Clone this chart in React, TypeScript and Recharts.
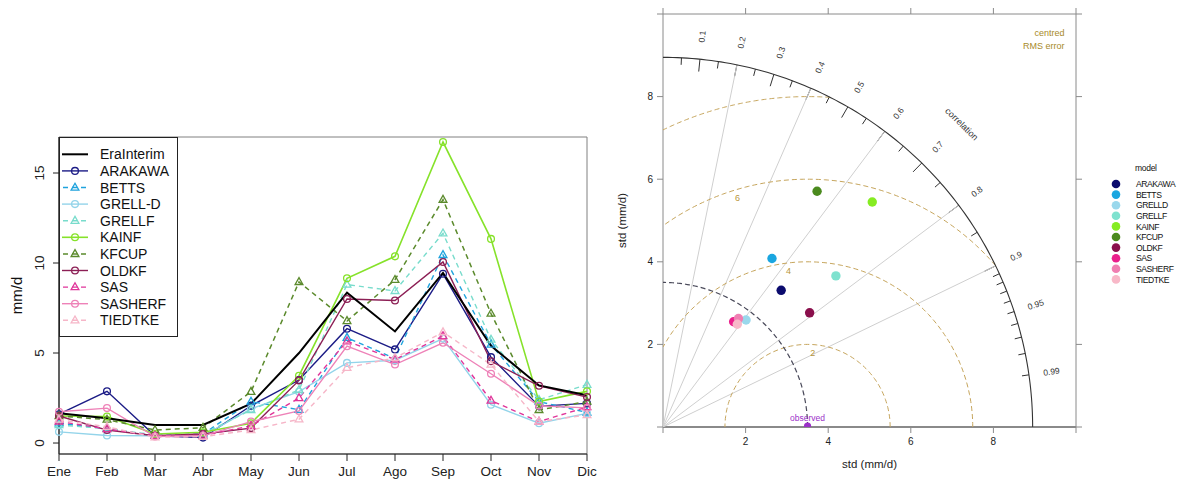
import React from 'react';
import {
  LineChart,
  Line,
  XAxis,
  YAxis,
  ReferenceArea,
  ReferenceLine,
  ScatterChart,
  Scatter,
} from 'recharts';

const FONT = '"Liberation Sans", Arial, Helvetica, sans-serif';

// ---------- Monthly precipitation (mm/d) ----------
const months = ['Ene', 'Feb', 'Mar', 'Abr', 'May', 'Jun', 'Jul', 'Ago', 'Sep', 'Oct', 'Nov', 'Dic'];
const eraInterim = [1.65, 1.38, 1.0, 1.0, 2.18, 5.0, 8.35, 6.2, 9.45, 5.4, 3.2, 2.65];
const arakawa = [1.6, 2.87, 0.4, 0.3, 2.07, 3.5, 6.35, 5.2, 9.4, 4.77, 2.05, 2.2];
const betts = [1.1, 0.8, 0.4, 0.5, 2.3, 1.85, 5.85, 4.7, 10.45, 5.47, 2.3, 1.7];
const grellD = [0.62, 0.42, 0.4, 0.4, 1.9, 2.85, 4.45, 4.6, 5.8, 2.13, 1.1, 1.65];
const grellF = [1.0, 0.8, 0.45, 0.5, 1.84, 2.95, 8.8, 8.45, 11.65, 5.75, 2.4, 3.24];
const kainf = [1.5, 1.47, 0.5, 0.6, 1.1, 3.74, 9.15, 10.37, 16.72, 11.34, 2.3, 2.87];
const kfcup = [1.5, 1.3, 0.72, 0.85, 2.85, 8.95, 6.78, 9.07, 13.52, 7.19, 1.84, 2.3];
const oldkf = [1.5, 0.72, 0.4, 0.5, 0.83, 3.48, 8.0, 7.92, 10.06, 4.54, 3.18, 2.55];
const sas = [1.2, 0.78, 0.4, 0.42, 0.95, 2.5, 5.66, 4.64, 5.94, 2.36, 1.19, 2.0];
const sasherf = [1.74, 1.94, 0.36, 0.4, 1.19, 1.78, 5.38, 4.36, 5.57, 3.85, 2.07, 1.95];
const tiedtke = [1.3, 0.9, 0.32, 0.35, 0.72, 1.32, 4.18, 4.73, 6.16, 4.36, 1.19, 1.56];

type Marker = 'circle' | 'triangle' | null;
interface SeriesDef {
  key: string;
  label: string;
  color: string;
  dashed: boolean;
  marker: Marker;
  width: number;
  values: number[];
}

const monthlySeries: SeriesDef[] = [
  { key: 'era', label: 'EraInterim', color: '#000000', dashed: false, marker: null, width: 2, values: eraInterim },
  { key: 'arakawa', label: 'ARAKAWA', color: '#1c1c86', dashed: false, marker: 'circle', width: 1.4, values: arakawa },
  { key: 'betts', label: 'BETTS', color: '#1fa3dd', dashed: true, marker: 'triangle', width: 1.4, values: betts },
  { key: 'grellD', label: 'GRELL-D', color: '#93d4ea', dashed: false, marker: 'circle', width: 1.4, values: grellD },
  { key: 'grellF', label: 'GRELLF', color: '#78dccc', dashed: true, marker: 'triangle', width: 1.4, values: grellF },
  { key: 'kainf', label: 'KAINF', color: '#86e22a', dashed: false, marker: 'circle', width: 1.6, values: kainf },
  { key: 'kfcup', label: 'KFCUP', color: '#5b8a2c', dashed: true, marker: 'triangle', width: 1.5, values: kfcup },
  { key: 'oldkf', label: 'OLDKF', color: '#8c1f55', dashed: false, marker: 'circle', width: 1.4, values: oldkf },
  { key: 'sas', label: 'SAS', color: '#e0359a', dashed: true, marker: 'triangle', width: 1.4, values: sas },
  { key: 'sasherf', label: 'SASHERF', color: '#ee82b8', dashed: false, marker: 'circle', width: 1.4, values: sasherf },
  { key: 'tiedtke', label: 'TIEDTKE', color: '#f6b6c8', dashed: true, marker: 'triangle', width: 1.4, values: tiedtke },
];

const monthlyRows = months.map((m, i) => {
  const row: Record<string, string | number> = { month: m };
  monthlySeries.forEach((s) => {
    row[s.key] = s.values[i];
  });
  return row;
});

const yTicksMonthly = [0, 5, 10, 15];

// ---------- Taylor diagram ----------
const models = ['ARAKAWA', 'BETTS', 'GRELLD', 'GRELLF', 'KAINF', 'KFCUP', 'OLDKF', 'SAS', 'SASHERF', 'TIEDTKE'];
const modelStd = [4.375, 4.86, 3.28, 5.56, 7.44, 6.82, 4.5, 3.07, 3.2, 3.07];
const modelCorr = [0.654, 0.543, 0.613, 0.753, 0.681, 0.547, 0.789, 0.557, 0.571, 0.586];
const modelColors = ['#0b0b6e', '#1aa6e0', '#9ad8ec', '#7fe2cf', '#86ec22', '#4b8a1e', '#8a0f4c', '#ea1f8c', '#f07fb2', '#f8b8c8'];

const OBS_STD = 3.5;
const R_MAX = 8.95;
const stdTicks = [0, 2, 4, 6, 8, 10];
const rmsRadii = [2, 4, 6, 8];
const rmsLabelRadii = [2, 4, 6];
const rmsLabelAngles = [86, 97, 107];
const corrLabels = [0.1, 0.2, 0.3, 0.4, 0.5, 0.6, 0.7, 0.8, 0.9, 0.95, 0.99];
const corrGridLines = [0.2, 0.4, 0.6, 0.8, 0.9];

const corrTicks: number[] = [];
for (let k = 1; k <= 17; k++) corrTicks.push(k / 20);
for (let k = 90; k <= 99; k++) corrTicks.push(k / 100);

const sinOf = (c: number) => Math.sqrt(Math.max(0, 1 - c * c));

function arc(cx: number, r: number, a0: number, a1: number, n = 120) {
  return Array.from({ length: n + 1 }, (_, k) => {
    const a = a0 + ((a1 - a0) * k) / n;
    return { x: cx + r * Math.cos(a), y: r * Math.sin(a) };
  });
}

// centred-RMS circle around the observed point, kept inside the std quadrant
function rmsArc(r: number) {
  const lo = Math.acos(Math.min(1, (R_MAX * R_MAX - OBS_STD * OBS_STD - r * r) / (2 * OBS_STD * r)));
  const hi = Math.acos(Math.max(-1, -OBS_STD / r));
  return arc(OBS_STD, r, lo, hi);
}

const NoShape = () => <g />;

const TextShape = (p: any) => {
  const { cx, cy, payload } = p;
  if (cx == null || cy == null) return <g />;
  return (
    <text
      x={cx}
      y={cy}
      transform={`rotate(${payload.rot || 0}, ${cx}, ${cy})`}
      textAnchor={payload.anchor || 'middle'}
      dominantBaseline="central"
      fontSize={payload.size}
      fill={payload.color}
      fontFamily={FONT}
    >
      {payload.text}
    </text>
  );
};

const corrLabelData = corrLabels.map((c) => {
  const r = 9.5;
  return {
    x: r * c,
    y: r * sinOf(c),
    text: String(c),
    rot: -(Math.acos(c) * 180) / Math.PI,
    size: 8.5,
    color: '#333333',
  };
});

const corrTitle = [
  {
    x: 10.3 * Math.cos((45.4 * Math.PI) / 180),
    y: 10.3 * Math.sin((45.4 * Math.PI) / 180),
    text: 'correlation',
    rot: 90 - 45.4,
    size: 9,
    color: '#333333',
  },
];

const rmsLabelData = rmsLabelRadii.map((r, i) => {
  const a = (rmsLabelAngles[i] * Math.PI) / 180;
  return {
    x: OBS_STD + (r - 0.2) * Math.cos(a),
    y: (r - 0.2) * Math.sin(a),
    text: String(r),
    size: 9,
    color: '#b8963a',
  };
});

const rmsTitle = [
  { x: 9.72, y: 9.55, text: 'centred', anchor: 'end', size: 9, color: '#a88a2a' },
  { x: 9.72, y: 9.23, text: 'RMS error', anchor: 'end', size: 9, color: '#a88a2a' },
];

const blankFmt = () => '';
const innerFmt = (v: number) => (v === 0 || v === 10 ? '' : String(v));

function MonthMarker({ shape, cx, cy, color }: { shape: Marker; cx: number; cy: number; color: string }) {
  if (shape === 'triangle') {
    return (
      <path
        d={`M${cx},${cy - 4.3} L${cx + 3.9},${cy + 2.6} L${cx - 3.9},${cy + 2.6} Z`}
        fill="none"
        stroke={color}
        strokeWidth={1.3}
      />
    );
  }
  return <circle cx={cx} cy={cy} r={3.4} fill="none" stroke={color} strokeWidth={1.3} />;
}

const RotatedTick = (p: any) => {
  const { x, y, payload } = p;
  const bx = x - 6.5;
  return (
    <text
      x={bx}
      y={y}
      transform={`rotate(-90, ${bx}, ${y})`}
      textAnchor="middle"
      fontSize={13.5}
      fill="#222"
      fontFamily={FONT}
    >
      {payload.value}
    </text>
  );
};

function MonthlyChart() {
  const drawOrder = [...monthlySeries.slice(1), monthlySeries[0]];
  return (
    <LineChart width={600} height={481} data={monthlyRows} margin={{ top: 137, right: 13, bottom: 0, left: 0 }}>
      <ReferenceArea x1="Ene" x2="Dic" y1={-0.61} y2={17} fill="none" stroke="#808080" strokeWidth={1} ifOverflow="visible" />
      <XAxis
        dataKey="month"
        interval={0}
        height={27}
        tickSize={7}
        tickMargin={5}
        padding={{ left: 0, right: 0 }}
        axisLine={{ stroke: '#222', strokeWidth: 1.2 }}
        tickLine={{ stroke: '#222' }}
        tick={{ fontSize: 13.5, fill: '#222', fontFamily: FONT }}
      />
      <YAxis
        width={59}
        type="number"
        domain={[-0.61, 17]}
        allowDataOverflow
        ticks={yTicksMonthly}
        tickSize={6}
        axisLine={{ stroke: '#222', strokeWidth: 1.2 }}
        tickLine={{ stroke: '#222' }}
        tick={<RotatedTick />}
        label={(p: any) => {
          const vb = p.viewBox || { x: 0, y: 137, width: 59, height: 317 };
          const x = vb.x + 21.5;
          const y = vb.y + vb.height / 2;
          return (
            <text x={x} y={y} transform={`rotate(-90, ${x}, ${y})`} textAnchor="middle" fontSize={15} fill="#111" fontFamily={FONT}>
              mm/d
            </text>
          );
        }}
      />
      {drawOrder.map((s) => (
        <Line
          key={s.key}
          type="linear"
          dataKey={s.key}
          name={s.label}
          stroke={s.color}
          strokeWidth={s.width}
          strokeDasharray={s.dashed ? '5 4' : undefined}
          isAnimationActive={false}
          dot={
            s.marker
              ? (p: any) => <MonthMarker key={`${s.key}-${p.index}`} shape={s.marker} cx={p.cx} cy={p.cy} color={s.color} />
              : false
          }
          activeDot={false}
        />
      ))}
    </LineChart>
  );
}

function MonthlyLegend() {
  const rowH = 16.6;
  return (
    <svg width={120} height={201} style={{ position: 'absolute', left: 59, top: 137 }}>
      <rect x={0.5} y={0.5} width={118} height={199} fill="#fff" stroke="#222" strokeWidth={1} />
      {monthlySeries.map((s, i) => {
        const cy = 17.3 + i * rowH;
        return (
          <g key={s.key}>
            <line
              x1={3}
              x2={29}
              y1={cy}
              y2={cy}
              stroke={s.color}
              strokeWidth={s.width}
              strokeDasharray={s.dashed ? '5 4' : undefined}
              strokeDashoffset={s.dashed ? -1 : 0}
            />
            {s.marker ? <MonthMarker shape={s.marker} cx={16} cy={cy} color={s.color} /> : null}
            <text x={41} y={cy + 5} fontSize={14} fill="#111" fontFamily={FONT}>
              {s.label}
            </text>
          </g>
        );
      })}
    </svg>
  );
}

function TaylorChart() {
  const axisStroke = '#8a8a8a';
  return (
    <ScatterChart width={588} height={481} margin={{ top: 4, right: 102, bottom: 6, left: 13 }}>
      <XAxis
        xAxisId={0}
        type="number"
        dataKey="x"
        domain={[0, 10]}
        allowDataOverflow
        ticks={stdTicks}
        tickFormatter={innerFmt}
        height={48}
        tickSize={6}
        tickMargin={5}
        axisLine={{ stroke: axisStroke, strokeWidth: 2 }}
        tickLine={{ stroke: axisStroke }}
        tick={{ fontSize: 10, fill: '#222', fontFamily: FONT }}
        label={(p: any) => {
          const vb = p.viewBox || { x: 63, y: 427, width: 413, height: 48 };
          return (
            <text x={vb.x + vb.width / 2} y={vb.y + 37} textAnchor="middle" dominantBaseline="central" fontSize={11.5} fill="#222" fontFamily={FONT}>
              std (mm/d)
            </text>
          );
        }}
      />
      <XAxis
        xAxisId="t"
        orientation="top"
        type="number"
        dataKey="x"
        domain={[0, 10]}
        allowDataOverflow
        ticks={stdTicks}
        tickFormatter={blankFmt}
        height={10}
        tickSize={6}
        axisLine={{ stroke: axisStroke }}
        tickLine={{ stroke: axisStroke }}
      />
      <YAxis
        yAxisId={0}
        type="number"
        dataKey="y"
        domain={[0, 10]}
        allowDataOverflow
        ticks={stdTicks}
        tickFormatter={innerFmt}
        width={50}
        tickSize={6}
        tickMargin={4}
        axisLine={{ stroke: axisStroke }}
        tickLine={{ stroke: axisStroke }}
        tick={{ fontSize: 10, fill: '#222', fontFamily: FONT }}
        label={(p: any) => {
          const vb = p.viewBox || { x: 13, y: 14, width: 50, height: 413 };
          const x = vb.x + 13;
          const y = vb.y + vb.height / 2;
          return (
            <text x={x} y={y} transform={`rotate(-90, ${x}, ${y})`} textAnchor="middle" fontSize={11.5} fill="#222" fontFamily={FONT}>
              std (mm/d)
            </text>
          );
        }}
      />
      <YAxis
        yAxisId="r"
        orientation="right"
        type="number"
        domain={[0, 10]}
        allowDataOverflow
        ticks={stdTicks}
        tickFormatter={blankFmt}
        width={10}
        tickSize={6}
        axisLine={{ stroke: axisStroke }}
        tickLine={{ stroke: axisStroke }}
      />

      {/* correlation grid rays */}
      {corrGridLines.map((c) => (
        <Scatter
          key={`ray-${c}`}
          data={[
            { x: 0, y: 0 },
            { x: R_MAX * c, y: R_MAX * sinOf(c) },
          ]}
          fill="none"
          stroke="#cfcfcf"
          line={{ stroke: '#cfcfcf', strokeWidth: 1 }}
          shape={NoShape}
          isAnimationActive={false}
        />
      ))}

      {/* centred RMS error circles */}
      {rmsRadii.map((r) => (
        <Scatter
          key={`rms-${r}`}
          data={rmsArc(r)}
          fill="none"
          stroke="#c6a55c"
          line={{ stroke: '#c6a55c', strokeWidth: 1, strokeDasharray: '5 3' }}
          shape={NoShape}
          isAnimationActive={false}
        />
      ))}

      {/* observed standard deviation */}
      <Scatter
        data={arc(0, OBS_STD, 0, Math.PI / 2)}
        fill="none"
        stroke="#4a4a5a"
        line={{ stroke: '#4a4a5a', strokeWidth: 1.2, strokeDasharray: '5 3' }}
        shape={NoShape}
        isAnimationActive={false}
      />

      {/* outer correlation arc */}
      <Scatter
        data={arc(0, R_MAX, 0, Math.PI / 2)}
        fill="none"
        stroke="#333"
        line={{ stroke: '#333', strokeWidth: 1.1 }}
        shape={NoShape}
        isAnimationActive={false}
      />

      {corrTicks.map((c) => {
        const major = Math.abs(c * 10 - Math.round(c * 10)) < 1e-9;
        const len = major ? 0.3 : 0.17;
        const s = sinOf(c);
        return (
          <ReferenceLine
            key={`tick-${c}`}
            segment={[
              { x: R_MAX * c, y: R_MAX * s },
              { x: (R_MAX - len) * c, y: (R_MAX - len) * s },
            ]}
            stroke="#333"
            strokeWidth={1}
            ifOverflow="visible"
          />
        );
      })}

      <Scatter data={corrLabelData} shape={TextShape} isAnimationActive={false} />
      <Scatter data={corrTitle} shape={TextShape} isAnimationActive={false} />
      <Scatter data={rmsLabelData} shape={TextShape} isAnimationActive={false} />
      <Scatter data={rmsTitle} shape={TextShape} isAnimationActive={false} />

      {/* observed reference point */}
      <Scatter
        data={[{ x: OBS_STD, y: 0 }]}
        isAnimationActive={false}
        shape={(p: any) => (
          <g>
            <circle cx={p.cx} cy={p.cy - 1} r={3.6} fill="#9b30c8" />
            <text x={p.cx} y={p.cy - 6.5} textAnchor="middle" fontSize={8.5} fill="#9b30c8" fontFamily={FONT}>
              observed
            </text>
          </g>
        )}
      />

      {models.map((m, i) => {
        const c = modelCorr[i];
        const sd = modelStd[i];
        return (
          <Scatter
            key={m}
            name={m}
            data={[{ x: sd * c, y: sd * sinOf(c) }]}
            fill={modelColors[i]}
            isAnimationActive={false}
            shape={(p: any) => <circle cx={p.cx} cy={p.cy} r={4.7} fill={modelColors[i]} />}
          />
        );
      })}
    </ScatterChart>
  );
}

function ModelLegend() {
  return (
    <svg width={88} height={130} style={{ position: 'absolute', left: 1100, top: 160 }}>
      <text x={35} y={11} fontSize={8.5} fill="#111" fontFamily={FONT} letterSpacing={-0.3}>
        model
      </text>
      {models.map((m, i) => {
        const cy = 24 + i * 10.6;
        return (
          <g key={m}>
            <circle cx={16} cy={cy} r={4.3} fill={modelColors[i]} />
            <text x={36} y={cy + 3.2} fontSize={8.6} fill="#111" fontFamily={FONT} letterSpacing={-0.45}>
              {m}
            </text>
          </g>
        );
      })}
    </svg>
  );
}

export default function App() {
  return (
    <div style={{ position: 'absolute', left: 0, top: 0, width: 1188, height: 481, background: '#fff', fontFamily: FONT }}>
      <div style={{ position: 'absolute', left: 0, top: 0 }}>
        <MonthlyChart />
      </div>
      <MonthlyLegend />
      <div style={{ position: 'absolute', left: 600, top: 0 }}>
        <TaylorChart />
      </div>
      <ModelLegend />
    </div>
  );
}
